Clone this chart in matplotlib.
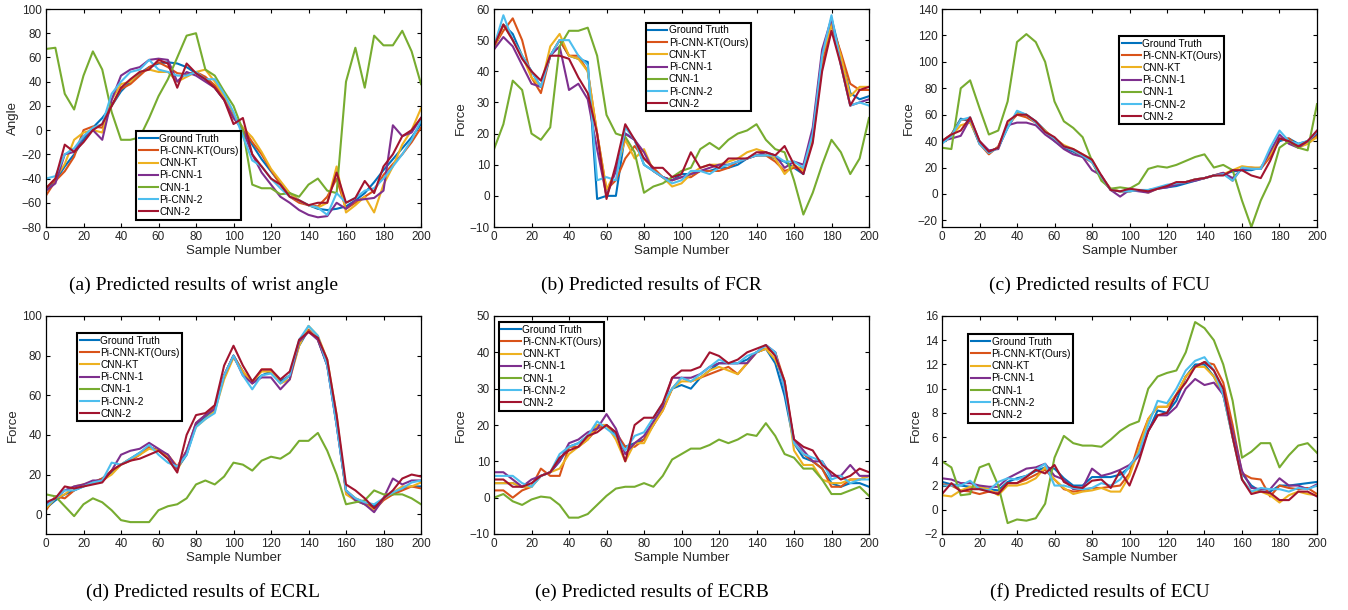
import matplotlib.pyplot as plt
import numpy as np

plt.rcParams['font.family'] = ['Liberation Sans', 'DejaVu Sans']

# sample numbers (every 5th sample)
x = np.arange(0, 201, 5)

labels = ['Ground Truth', 'Pi-CNN-KT(Ours)', 'CNN-KT', 'Pi-CNN-1', 'CNN-1', 'Pi-CNN-2', 'CNN-2']
colors = ['#0072BD', '#D95319', '#EDB120', '#7E2F8E', '#77AC30', '#4DBEEE', '#A2142F']

# (a) wrist angle
angle_gt = [-48,-42,-30,-20,-8,2,10,20,32,40,47,52,55,56,55,52,47,42,35,25,12,0,-12,-24,-34,-44,-52,-58,-62,-65,-66,-65,-63,-58,-52,-43,-33,-24,-15,-6,5]
angle_pikt = [-54,-42,-34,-22,0,3,2,20,34,38,45,52,56,52,47,46,48,44,37,28,12,2,-10,-20,-33,-45,-55,-60,-62,-63,-55,-40,-65,-60,-55,-50,-37,-28,-20,-10,2]
angle_kt = [-48,-40,-28,-8,-2,0,-2,25,38,40,48,50,48,48,40,44,48,50,40,28,10,2,-6,-18,-32,-42,-52,-58,-62,-64,-60,-30,-68,-62,-55,-68,-45,-30,-12,0,18]
angle_pi1 = [-50,-44,-20,-18,-5,0,-8,25,45,50,52,58,59,58,40,48,45,40,35,25,10,0,-20,-35,-45,-55,-60,-66,-70,-72,-71,-60,-65,-58,-57,-56,-50,4,-5,-2,10]
angle_c1 = [67,68,30,17,45,65,50,15,-8,-8,-6,10,28,42,60,78,80,50,45,32,20,0,-45,-48,-48,-53,-52,-55,-45,-40,-50,-52,40,68,35,78,70,70,82,65,38]
angle_pi2 = [-40,-38,-20,-15,-5,2,5,30,40,48,50,58,50,48,45,45,48,42,42,30,15,-5,-25,-30,-40,-48,-55,-58,-62,-64,-70,-52,-60,-56,-50,-48,-40,-30,-20,-8,8]
angle_c2 = [-48,-40,-12,-18,-10,0,5,20,35,42,48,50,58,55,35,55,47,42,35,25,5,10,-20,-30,-40,-45,-55,-58,-62,-60,-60,-35,-60,-56,-42,-52,-30,-20,-5,0,10]

# (b) FCR
fcr_gt = [48,55,52,45,40,35,45,50,45,44,43,-1,0,0,20,18,10,8,6,5,7,7,8,8,9,9,10,12,13,13,12,11,9,7,20,45,57,45,33,31,32]
fcr_pikt = [48,53,57,50,38,33,45,50,45,45,40,20,2,5,12,16,12,9,6,5,6,6,8,8,8,9,11,12,13,13,11,8,9,9,18,42,55,46,36,34,34]
fcr_kt = [47,55,50,45,38,35,48,52,45,44,40,20,2,8,18,12,15,8,6,3,4,7,9,10,10,11,12,14,15,14,12,7,10,8,20,45,55,45,32,35,35]
fcr_pi1 = [47,51,48,42,36,35,45,48,34,36,31,15,0,8,20,18,14,8,6,5,6,7,8,9,10,10,11,12,13,14,13,9,11,10,22,47,57,42,29,30,31]
fcr_c1 = [15,23,37,34,20,18,22,48,53,53,54,45,26,20,19,14,1,3,4,6,8,9,15,17,15,18,20,21,23,18,15,14,5,-6,1,10,18,14,7,12,25]
fcr_pi2 = [48,58,50,45,40,35,45,50,50,45,42,5,6,5,22,18,10,8,6,4,5,8,8,7,9,10,11,12,13,13,13,11,11,9,20,45,58,42,29,30,29]
fcr_c2 = [48,55,50,44,40,37,45,45,44,38,33,20,-1,10,23,18,12,9,9,6,7,14,9,10,9,12,12,12,14,14,13,16,10,7,17,40,53,42,29,34,35]

# (c) FCU
fcu_gt = [40,45,57,55,38,32,35,50,62,60,55,48,40,35,32,28,25,12,3,2,2,3,3,4,5,6,8,10,12,14,15,17,18,18,20,30,40,42,38,40,45]
fcu_pikt = [40,45,56,57,38,30,36,52,60,58,54,47,42,36,33,28,24,12,3,2,2,3,2,4,6,8,9,11,12,14,16,10,20,20,19,28,42,42,36,38,44]
fcu_kt = [40,44,52,54,40,32,35,52,61,60,54,48,42,37,34,30,26,13,4,2,2,3,1,4,6,8,9,11,12,14,15,18,21,20,20,30,42,40,35,38,43]
fcu_pi1 = [40,42,44,57,40,33,34,52,54,54,52,45,40,34,30,28,18,14,3,-2,3,2,1,4,5,7,9,10,12,14,16,12,19,19,19,32,45,38,35,40,46]
fcu_c1 = [35,34,80,86,65,45,48,70,115,121,115,100,70,55,50,43,25,10,4,5,4,8,19,21,20,22,25,28,30,20,22,18,-5,-25,-5,10,35,40,35,33,68]
fcu_pi2 = [38,44,56,58,38,31,35,50,63,60,54,47,42,36,33,29,24,13,3,2,2,3,3,5,7,8,9,11,12,14,15,10,20,19,19,35,48,40,38,40,47]
fcu_c2 = [40,45,48,58,40,32,35,55,60,60,55,47,43,36,34,30,26,14,3,2,4,3,2,4,6,9,9,11,12,14,14,18,18,14,12,25,42,40,36,40,48]

# (d) ECRL
ecrl_gt = [3,7,10,12,14,16,18,21,25,28,31,34,32,30,23,30,45,49,53,70,80,72,66,70,72,67,70,85,93,88,75,45,12,7,5,4,8,10,13,14,14]
ecrl_pikt = [2,9,8,12,15,16,18,22,25,27,30,34,32,30,24,32,46,50,54,70,80,72,66,73,73,66,70,86,93,88,76,48,12,8,6,2,7,10,12,14,13]
ecrl_kt = [3,8,10,14,15,16,17,20,25,28,30,33,32,29,22,32,44,48,52,68,79,72,67,72,72,66,68,85,95,90,78,50,10,7,5,2,8,11,14,14,16]
ecrl_pi1 = [5,8,12,14,15,17,17,22,30,32,33,36,33,30,23,32,46,50,53,70,80,70,66,69,69,63,68,87,92,88,75,45,12,7,5,1,8,18,15,17,17]
ecrl_c1 = [10,9,4,-1,5,8,6,2,-3,-4,-4,-4,2,4,5,8,15,17,15,19,26,25,22,27,29,28,31,37,37,41,32,20,5,6,7,12,10,10,10,8,5]
ecrl_pi2 = [4,8,12,12,14,16,17,26,25,28,31,35,30,26,24,30,44,48,51,70,80,70,63,70,71,66,70,88,95,90,75,45,12,8,6,5,8,11,13,16,17]
ecrl_c2 = [6,8,14,13,14,15,16,22,25,27,28,30,32,28,21,40,50,51,55,75,85,75,67,73,73,68,72,88,92,89,78,50,15,12,8,3,8,12,18,20,19]

# (e) ECRB
ecrb_gt = [4,4,4,3,3,6,7,10,14,15,17,20,20,17,14,15,16,20,25,30,31,30,33,35,37,37,37,38,40,41,37,28,15,11,10,8,4,3,4,4,3]
ecrb_pikt = [2,2,0,2,3,8,6,6,14,14,16,19,20,18,14,14,16,20,24,30,33,32,33,34,35,36,34,37,40,41,40,32,15,12,10,8,3,3,5,5,6]
ecrb_kt = [4,4,4,3,3,6,7,8,12,14,16,20,20,16,10,15,15,20,24,30,32,32,33,35,36,35,34,37,40,41,38,32,13,9,9,5,4,4,5,5,6]
ecrb_pi1 = [7,7,5,3,5,6,7,10,15,16,18,19,23,19,12,15,17,21,25,33,33,33,34,36,37,37,37,37,40,42,40,30,16,13,10,10,6,6,9,6,6]
ecrb_c1 = [0,1,-1,-2,-0.5,0.3,0,-2,-5.5,-5.5,-4.5,-2,0.5,2.5,3,3,4,3,6,10.5,12,13.5,13.5,14.5,16,15,16,17.5,17,20.5,17,12,11,8,8,5,1,1,2,3,0.5]
ecrb_pi2 = [6,6,6,4,3,6,7,12,14,15,17,21,19,17,13,17,18,22,26,30,33,32,34,36,38,37,37,39,40,42,40,30,15,12,11,10,5,6,4,5,5]
ecrb_c2 = [5,5,3,3,4,6,7,11,13,14,17,18,20,18,10,20,22,22,26,33,35,35,36,40,39,37,38,40,41,42,39,32,16,14,13,9,7,5,6,8,7]

# (f) ECU
ecu_gt = [2.3,2.1,2.0,1.9,1.8,1.7,1.6,2.3,2.6,2.8,3.2,3.5,3.4,2.6,2.0,2.0,2.7,2.7,2.7,2.9,3.5,4.5,6.5,8.2,8.0,9.0,11,12,12,11,9.5,6,3,2,1.5,1.5,2.0,2.0,2.1,2.2,2.3]
ecu_pikt = [2.1,2.0,1.6,1.5,1.3,1.5,1.4,2.2,2.2,2.5,2.9,3.3,2.5,1.7,1.5,1.6,1.8,1.8,1.9,2.0,3.0,5.5,7.5,8.5,8.5,9.5,11,11.8,12.2,12,10.5,7,3,2.6,2.5,1.1,2.0,1.8,1.7,1.8,1.3]
ecu_kt = [1.2,1.1,1.6,1.9,1.9,1.7,1.2,2.0,2.0,2.2,2.6,3.5,2.5,1.8,1.3,1.5,1.6,1.8,1.5,1.5,2.8,5,7.5,8.5,8.5,9.5,11,11.8,11.8,11,9.5,6,2.5,1.5,1.5,1.2,0.6,1.2,1.5,1.3,1.2]
ecu_pi1 = [2.6,2.5,2.2,2.2,2.0,1.9,1.9,2.6,3.0,3.4,3.5,3.8,2.8,2.5,1.7,1.8,3.4,2.8,3.0,3.3,3.7,4.5,6.5,7.8,7.8,8.5,10,10.8,10.3,10.5,9.5,6.5,3.2,1.8,1.7,1.7,2.6,2.0,2.0,1.7,2.1]
ecu_c1 = [4.0,3.5,1.2,1.3,3.5,3.8,2.0,-1.1,-0.8,-0.9,-0.7,0.5,4.3,6.1,5.5,5.3,5.3,5.2,5.8,6.5,7.0,7.3,10,11,11.3,11.5,13,15.5,15,14,12,9,4.3,4.8,5.5,5.5,3.5,4.5,5.3,5.5,4.7]
ecu_pi2 = [2.0,2.0,2.0,2.4,1.7,1.6,2.3,2.6,2.5,2.8,3.3,3.8,2.0,2.0,1.8,1.7,1.8,2.2,2.0,2.5,3.6,4.7,7.0,9.0,8.8,10,11.5,12.3,12.6,11.5,9.5,6,2.5,1.5,1.8,1.7,1.7,1.5,1.8,1.7,2.0]
ecu_c2 = [1.3,2.2,1.5,1.7,1.7,1.5,1.3,2.2,2.2,2.7,3.3,3.0,3.7,2.3,1.9,1.8,2.4,2.5,1.8,3.2,2.0,4.0,6.5,7.8,8.0,9.5,10.5,11.8,12.2,11.5,10,6,2.5,1.3,1.5,1.4,0.8,0.8,1.5,1.5,1.1]

panels = [
    ([angle_gt, angle_pikt, angle_kt, angle_pi1, angle_c1, angle_pi2, angle_c2], 'Angle', (-80, 100), 20,
     '(a) Predicted results of wrist angle', (0.24, 0.44)),
    ([fcr_gt, fcr_pikt, fcr_kt, fcr_pi1, fcr_c1, fcr_pi2, fcr_c2], 'Force', (-10, 60), 10,
     '(b) Predicted results of FCR', (0.404, 0.936)),
    ([fcu_gt, fcu_pikt, fcu_kt, fcu_pi1, fcu_c1, fcu_pi2, fcu_c2], 'Force', (-25, 140), 20,
     '(c) Predicted results of FCU', (0.472, 0.876)),
    ([ecrl_gt, ecrl_pikt, ecrl_kt, ecrl_pi1, ecrl_c1, ecrl_pi2, ecrl_c2], 'Force', (-10, 100), 20,
     '(d) Predicted results of ECRL', (0.083, 0.922)),
    ([ecrb_gt, ecrb_pikt, ecrb_kt, ecrb_pi1, ecrb_c1, ecrb_pi2, ecrb_c2], 'Force', (-10, 50), 10,
     '(e) Predicted results of ECRB', (0.013, 0.972)),
    ([ecu_gt, ecu_pikt, ecu_kt, ecu_pi1, ecu_c1, ecu_pi2, ecu_c2], 'Force', (-2, 16), 2,
     '(f) Predicted results of ECU', (0.07, 0.917)),
]

W, H = 1348, 610
fig = plt.figure(figsize=(W / 100, H / 100), dpi=100)

lefts = [46, 494, 942]
tops = [9, 316]
ax_w, ax_h = 375, 218
cap_y = [285, 592]

for i, (series, ylab, ylim, step, caption, leg_pos) in enumerate(panels):
    r, c = divmod(i, 3)
    l, t = lefts[c], tops[r]
    ax = fig.add_axes([l / W, 1 - (t + ax_h) / H, ax_w / W, ax_h / H])
    for ys, lab, col in zip(series, labels, colors):
        ax.plot(x, ys, color=col, lw=1.5, label=lab)
    ax.set_xlim(0, 200)
    ax.set_ylim(*ylim)
    ax.set_xticks(np.arange(0, 201, 20))
    first = int(np.ceil(ylim[0] / step) * step)
    ax.set_yticks(np.arange(first, ylim[1] + 0.01, step))
    ax.tick_params(direction='in', top=True, right=True, length=3, labelsize=8.5, pad=3,
                   labelcolor='#262626')
    for sp in ax.spines.values():
        sp.set_linewidth(0.9)
    ax.set_xlabel('Sample Number', fontsize=9.5, labelpad=1, color='#262626')
    ax.set_ylabel(ylab, fontsize=9.5, labelpad=2, color='#262626')
    leg = ax.legend(loc='upper left', bbox_to_anchor=leg_pos, borderaxespad=0, fontsize=7.3,
                    fancybox=False, edgecolor='black', framealpha=1, handlelength=1.9,
                    handletextpad=0.15, borderpad=0.25, labelspacing=0.22)
    leg.get_frame().set_linewidth(1.5)
    fig.text((l + ax_w / 2 - 30) / W, 1 - cap_y[r] / H, caption, ha='center', va='center',
             fontsize=14, family=['Liberation Serif', 'DejaVu Serif'])

fig.savefig('out.png', dpi=100)
